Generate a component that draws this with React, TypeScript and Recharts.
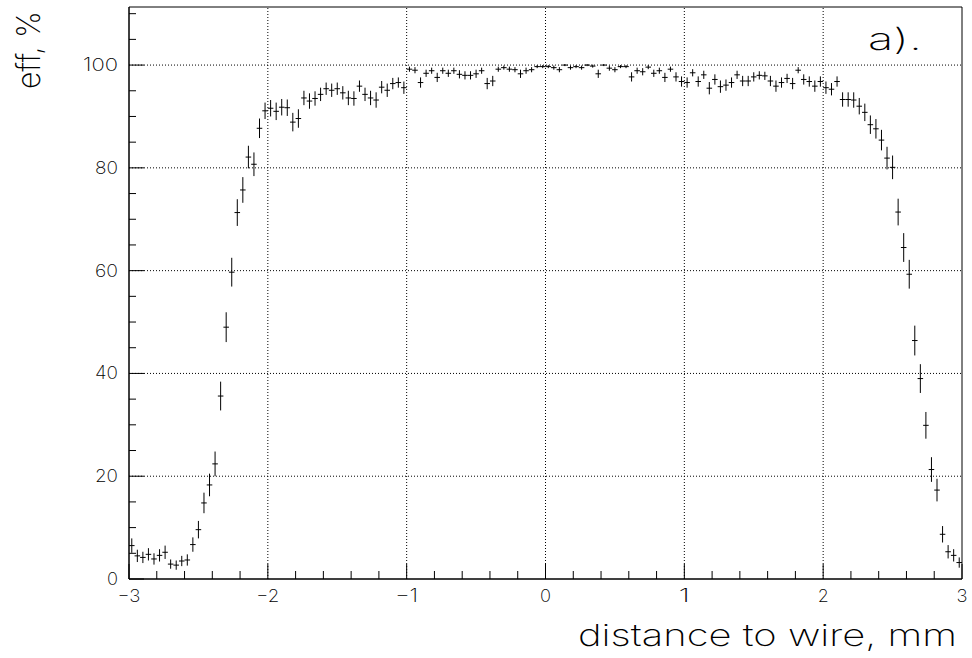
import React from 'react';
import { ScatterChart, Scatter, XAxis, YAxis, ErrorBar, ReferenceLine, ReferenceArea } from 'recharts';

// histogram binning: 150 bins of 0.04 mm between -3 and 3
const X_MIN = -3;
const BIN_WIDTH = 0.04;
const Y_MAX = 111.3;

const efficiency: number[] = [
    6.5, 4.5, 4.2, 4.8, 3.9, 4.6, 5.2, 2.9, 2.7, 3.5,
    3.7, 6.7, 9.6, 14.8, 18.3, 22.4, 35.6, 49.0, 59.7, 71.3,
    75.7, 82.1, 80.7, 87.7, 91.1, 91.6, 91.0, 91.8, 91.7, 88.9,
    89.6, 93.6, 93.0, 93.5, 94.3, 95.4, 95.1, 95.4, 94.6, 93.6,
    93.5, 95.9, 94.3, 93.6, 93.2, 95.7, 95.1, 96.4, 96.6, 95.6,
    99.2, 99.0, 96.6, 98.4, 98.9, 97.6, 98.9, 98.4, 98.9, 98.2,
    98.0, 98.0, 98.3, 98.9, 96.4, 96.9, 99.2, 99.5, 99.2, 99.1,
    98.3, 98.9, 99.1, 99.7, 99.7, 99.7, 99.5, 99.1, 100.0, 99.5,
    99.7, 99.5, 100.0, 99.8, 98.3, 100.0, 99.4, 99.1, 99.7, 99.7,
    97.7, 98.9, 98.7, 99.6, 98.4, 98.9, 97.6, 99.2, 97.7, 96.8,
    96.6, 98.5, 96.8, 98.1, 95.5, 97.2, 95.8, 96.1, 96.6, 98.1,
    96.9, 96.9, 97.7, 98.0, 97.9, 96.9, 95.9, 96.6, 97.4, 96.4,
    99.0, 97.2, 96.8, 95.9, 96.8, 95.6, 95.3, 96.8, 93.3, 93.3,
    93.2, 92.0, 90.8, 88.4, 87.6, 85.4, 81.9, 80.1, 71.4, 64.5,
    59.3, 46.4, 39.0, 29.9, 21.3, 17.3, 8.7, 5.3, 4.6, 3.2,
];

const errors: number[] = [
    1.4, 1.2, 1.1, 1.2, 1.1, 1.2, 1.3, 0.9, 0.9, 1.0,
    1.1, 1.4, 1.7, 2.0, 2.2, 2.4, 2.8, 2.9, 2.8, 2.6,
    2.5, 2.2, 2.3, 1.9, 1.6, 1.6, 1.7, 1.6, 1.6, 1.8,
    1.8, 1.4, 1.5, 1.4, 1.3, 1.2, 1.3, 1.2, 1.3, 1.4,
    1.4, 1.1, 1.3, 1.4, 1.5, 1.2, 1.3, 1.1, 1.0, 1.2,
    0.5, 0.6, 1.0, 0.7, 0.6, 0.9, 0.6, 0.7, 0.6, 0.8,
    0.8, 0.8, 0.8, 0.6, 1.1, 1.0, 0.5, 0.4, 0.5, 0.5,
    0.8, 0.6, 0.5, 0.3, 0.3, 0.3, 0.4, 0.5, 0.2, 0.4,
    0.3, 0.4, 0.2, 0.3, 0.8, 0.2, 0.5, 0.5, 0.3, 0.3,
    0.9, 0.6, 0.7, 0.4, 0.7, 0.6, 0.9, 0.5, 0.9, 1.0,
    1.0, 0.7, 1.0, 0.8, 1.2, 1.0, 1.2, 1.1, 1.0, 0.8,
    1.0, 1.0, 0.9, 0.8, 0.8, 1.0, 1.1, 1.0, 0.9, 1.1,
    0.6, 1.0, 1.0, 1.1, 1.0, 1.2, 1.2, 1.0, 1.4, 1.4,
    1.5, 1.6, 1.7, 1.8, 1.9, 2.0, 2.2, 2.3, 2.6, 2.8,
    2.8, 2.9, 2.8, 2.6, 2.4, 2.2, 1.6, 1.3, 1.2, 1.0,
];

const xTicks: number[] = Array.from({ length: 31 }, (_, i) => (i - 15) / 5);
const yTicks: number[] = Array.from({ length: 23 }, (_, i) => i * 5);
const gridX: number[] = [-2, -1, 0, 1, 2];
const gridY: number[] = [20, 40, 60, 80, 100];

const points = efficiency.map((v, i) => ({
    x: Math.round((X_MIN + BIN_WIDTH * (i + 0.5)) * 1000) / 1000,
    y: v,
    err: errors[i],
    xerr: BIN_WIDTH / 2,
}));

const FONT = 'Inter, Roboto, "DejaVu Sans", sans-serif';
const WEIGHT = 200;

const YTick = (props: any) => {
    const { x, y, payload } = props;
    const v = payload.value;
    const major = v % 20 === 0;
    const ax = x + 11;
    const label = String(v);
    return (
        <g>
            <line x1={ax} x2={ax + (major ? 15 : 7)} y1={y} y2={y} stroke="#000" />
            {major && v <= 100 && (
                <text x={x} y={y + 6} textAnchor="end" fontFamily={FONT} fontWeight={WEIGHT} fontSize={18}
                    fill="#000" textLength={label.length * 12 - 1} lengthAdjust="spacingAndGlyphs">
                    {label}
                </text>
            )}
        </g>
    );
};

const XTick = (props: any) => {
    const { x, y, payload } = props;
    const v = payload.value;
    const major = Math.abs(v - Math.round(v)) < 1e-6;
    const label = v < 0 ? '\u2212' + Math.abs(Math.round(v)) : String(Math.round(v));
    return (
        <g>
            <line x1={x} x2={x} y1={y} y2={y - (major ? 15 : 8)} stroke="#000" />
            {major && (
                <text x={x} y={y + 23} textAnchor="middle" fontFamily={FONT} fontWeight={WEIGHT} fontSize={18}
                    fill="#000" textLength={label.length * 12 - 1} lengthAdjust="spacingAndGlyphs">
                    {label}
                </text>
            )}
        </g>
    );
};

const App: React.FC = () => {
    return (
        <div style={{ position: 'absolute', left: 0, top: 0, width: 972, height: 658, background: '#fff' }}>
            <ScatterChart width={972} height={658} margin={{ top: 7, right: 10, bottom: 0, left: 0 }}>
                <XAxis type="number" dataKey="x" domain={[-3, 3]} ticks={xTicks} interval={0}
                    tickSize={0} tickMargin={0} tickLine={false} tick={<XTick />} height={79}
                    axisLine={{ stroke: '#000' }} allowDataOverflow />
                <YAxis type="number" dataKey="y" domain={[0, Y_MAX]} ticks={yTicks} interval={0}
                    tickSize={0} tickMargin={11} tickLine={false} tick={<YTick />} width={129}
                    axisLine={{ stroke: '#000' }} allowDataOverflow />
                {gridX.map((g) => (
                    <ReferenceLine key={'gx' + g} x={g} stroke="#000" strokeDasharray="1 2" />
                ))}
                {gridY.map((g) => (
                    <ReferenceLine key={'gy' + g} y={g} stroke="#000" strokeDasharray="1 2" />
                ))}
                <ReferenceArea x1={-3} x2={3} y1={0} y2={Y_MAX} fill="none" stroke="#000" />
                <Scatter data={points} shape={() => <g />} isAnimationActive={false}>
                    <ErrorBar dataKey="err" direction="y" width={0} stroke="#000" strokeWidth={1} isAnimationActive={false} />
                    <ErrorBar dataKey="xerr" direction="x" width={0} stroke="#000" strokeWidth={1} isAnimationActive={false} />
                </Scatter>
            </ScatterChart>
            <svg width={972} height={658} style={{ position: 'absolute', left: 0, top: 0, pointerEvents: 'none' }}>
                <text x={957} y={646} textAnchor="end" fontFamily={FONT} fontWeight={WEIGHT} fontSize={30}
                    fill="#000" textLength={379} lengthAdjust="spacingAndGlyphs">
                    distance to wire, mm
                </text>
                <text x={0} y={0} transform="translate(40, 89) rotate(-90)" fontFamily={FONT} fontWeight={WEIGHT}
                    fontSize={32} fill="#000" textLength={78} lengthAdjust="spacingAndGlyphs">
                    eff, %
                </text>
                <text x={868} y={50} fontFamily={FONT} fontWeight={WEIGHT} fontSize={30} fill="#000"
                    textLength={54} lengthAdjust="spacingAndGlyphs">
                    a).
                </text>
            </svg>
        </div>
    );
};

export default App;
